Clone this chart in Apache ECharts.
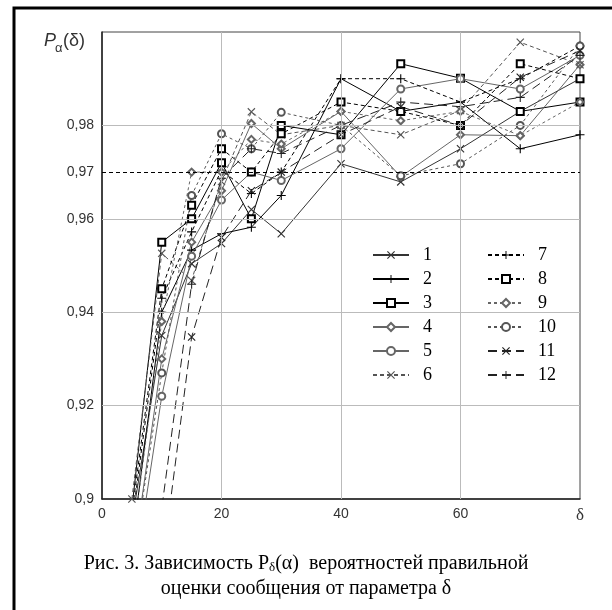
<!DOCTYPE html>
<html>
<head>
<meta charset="utf-8">
<script src="https://cdn.jsdelivr.net/npm/echarts/dist/echarts.min.js"></script>
<style>
html, body { margin: 0; padding: 0; background: #fff; }
#showChart { width: 612px; height: 610px; }
</style>
</head>
<body>
<div id="showChart"></div>
<script>
// значения δ
var deltas = [5, 10, 15, 20, 25, 30, 40, 50, 60, 70, 80];
// кривые 1..12
var s1  = [0.895, 0.935, 0.9504, 0.9547, 0.962, 0.9568, 0.9718, 0.9679, 0.975, 0.983, 0.990];
var s2  = [0.89, 0.94, 0.9533, 0.9568, 0.9582, 0.965, 0.990, 0.983, 0.985, 0.975, 0.978];
var s3  = [0.898, 0.955, 0.960, 0.972, 0.960, 0.980, 0.978, 0.9932, 0.9901, 0.983, 0.985];
var s4  = [0.885, 0.93, 0.955, 0.966, 0.9804, 0.975, 0.983, 0.969, 0.978, 0.9778, 0.993];
var s5  = [0.88, 0.922, 0.952, 0.964, 0.970, 0.9682, 0.975, 0.9878, 0.990, 0.9878, 0.995];
var s6  = [0.90, 0.9526, 0.9468, 0.968, 0.9829, 0.978, 0.980, 0.978, 0.9832, 0.9978, 0.993];
var s7  = [0.895, 0.943, 0.9572, 0.9704, 0.9654, 0.970, 0.990, 0.990, 0.985, 0.990, 0.997];
var s8  = [0.897, 0.945, 0.9629, 0.975, 0.970, 0.9782, 0.985, 0.983, 0.980, 0.9932, 0.990];
var s9  = [0.89, 0.938, 0.970, 0.970, 0.977, 0.976, 0.983, 0.981, 0.983, 0.9778, 0.985];
var s10 = [0.885, 0.927, 0.965, 0.9782, 0.975, 0.9828, 0.980, 0.9692, 0.9718, 0.980, 0.997];
var s11 = [0.86, 0.885, 0.9347, 0.956, 0.966, 0.970, 0.978, 0.984, 0.980, 0.9903, 0.996];
var s12 = [0.86, 0.898, 0.946, 0.9687, 0.975, 0.974, 0.980, 0.985, 0.984, 0.986, 0.995];
var names = ['1','2','3','4','5','6','7','8','9','10','11','12'];
var curves = [s1, s2, s3, s4, s5, s6, s7, s8, s9, s10, s11, s12];
// подписи и линии сетки
var yLabels = [0.9, 0.92, 0.94, 0.96, 0.97, 0.98];
var yGrid = [0.92, 0.94, 0.96, 0.98];
var yRef = 0.97;
var xGrid = [20, 40, 60];

var crossPath = 'path://M0,1L1,0L10,9L9,10ZM9,0L10,1L1,10L0,9Z';
var plusPath = 'path://M4.4,0H5.6V10H4.4ZM0,4.4H10V5.6H0Z';

var looks = [
  {sym: crossPath, size: 8, color: '#333', type: 'solid', fill: true},
  {sym: plusPath, size: 9, color: '#000', type: 'solid', fill: true},
  {sym: 'emptyRect', size: 7, color: '#000', type: 'solid'},
  {sym: 'emptyDiamond', size: 7, color: '#666', type: 'solid'},
  {sym: 'emptyCircle', size: 7, color: '#666', type: 'solid'},
  {sym: crossPath, size: 8, color: '#555', type: [4, 3], fill: true},
  {sym: plusPath, size: 9, color: '#000', type: [4, 3], fill: true},
  {sym: 'emptyRect', size: 7, color: '#000', type: [4, 3]},
  {sym: 'emptyDiamond', size: 7, color: '#666', type: [3, 3]},
  {sym: 'emptyCircle', size: 7, color: '#555', type: [3, 3]},
  {sym: crossPath, size: 8, color: '#222', type: [9, 5], fill: true},
  {sym: plusPath, size: 9, color: '#222', type: [9, 5], fill: true}
];

var myChart = echarts.init(document.getElementById('showChart'));

var series = [];
// сетка отдельной серией, под кривыми
var gridLines = [];
for (var i = 0; i < yGrid.length; i++) {
  gridLines.push({yAxis: yGrid[i], lineStyle: {color: '#bbb', width: 1, type: 'solid'}});
}
for (var i = 0; i < xGrid.length; i++) {
  gridLines.push({xAxis: xGrid[i], lineStyle: {color: '#bbb', width: 1, type: 'solid'}});
}
gridLines.push({yAxis: yRef, lineStyle: {color: '#000', width: 1, type: [4, 3]}});
series.push({
  name: 'grid', type: 'line', data: [], z: 1, silent: true,
  markLine: {silent: true, symbol: 'none', label: {show: false}, animation: false, data: gridLines}
});

for (var i = 0; i < curves.length; i++) {
  var pts = [];
  for (var j = 0; j < deltas.length; j++) pts.push([deltas[j], curves[i][j]]);
  var lk = looks[i];
  series.push({
    name: names[i],
    type: 'line',
    data: pts,
    z: 3,
    symbol: lk.sym,
    symbolSize: lk.size,
    showAllSymbol: true,
    clip: true,
    animation: false,
    lineStyle: {color: lk.color, width: 1, type: lk.type},
    itemStyle: lk.fill ? {color: lk.color, borderWidth: 0} : {color: lk.color, borderColor: lk.color, borderWidth: 1}
  });
}

var legendBase = {
  orient: 'vertical',
  top: 244,
  itemWidth: 36,
  itemHeight: 10,
  itemGap: 6,
  backgroundColor: '#fff',
  padding: [2, 4],
  textStyle: {fontFamily: 'Liberation Serif', fontSize: 18, color: '#000', padding: [0, 0, 0, 9]}
};

option = {
  backgroundColor: '#fff',
  animation: false,
  grid: {left: 102, top: 32, right: 32, bottom: 111, show: true, borderColor: '#444', borderWidth: 1},
  legend: [
    Object.assign({}, legendBase, {left: 368, data: names.slice(0, 6)}),
    Object.assign({}, legendBase, {left: 483, data: names.slice(6)})
  ],
  xAxis: {
    type: 'value', min: 0, max: 80, interval: 20,
    axisLine: {show: true, lineStyle: {color: '#222', width: 1.5}},
    axisTick: {show: false},
    splitLine: {show: false},
    axisLabel: {
      margin: 8, color: '#333', fontFamily: 'Liberation Sans', fontSize: 14,
      formatter: function (v) { return v === 80 ? '{d|δ}' : String(v); },
      rich: {d: {fontFamily: 'Liberation Serif', fontSize: 17, color: '#333'}}
    }
  },
  yAxis: {
    type: 'value', min: 0.9, max: 1.0, interval: 0.01,
    axisLine: {show: true, lineStyle: {color: '#222', width: 1.5}},
    axisTick: {show: false},
    splitLine: {show: false},
    axisLabel: {
      margin: 8, color: '#333', fontFamily: 'Liberation Sans', fontSize: 14,
      formatter: function (v) {
        var r = Math.round(v * 100) / 100;
        if (yLabels.indexOf(r) < 0) return '';
        return String(r).replace('.', ',');
      }
    }
  },
  graphic: [
    {type: 'rect', shape: {x: 14, y: 8, width: 700, height: 700}, style: {fill: 'none', stroke: '#000', lineWidth: 3}, silent: true},
    {type: 'text', left: 44, top: 32, style: {text: 'P', font: 'italic 18px "Liberation Sans"', fill: '#333'}},
    {type: 'text', left: 55, top: 42, style: {text: 'α', font: '13px "Liberation Sans"', fill: '#333'}},
    {type: 'text', left: 63, top: 32, style: {text: '(δ)', font: '18px "Liberation Sans"', fill: '#333'}},
    {
      type: 'text', left: 'center', top: 553,
      style: {
        text: 'Рис. 3. Зависимость P{s|δ}(α)  вероятностей правильной',
        font: '20px "Liberation Serif"', fill: '#000',
        rich: {s: {font: '13px "Liberation Serif"', verticalAlign: 'bottom', lineHeight: 13, padding: [8, 0, 0, 0]}}
      }
    },
    {
      type: 'text', left: 'center', top: 579,
      style: {text: 'оценки сообщения от параметра δ', font: '20px "Liberation Serif"', fill: '#000'}
    }
  ],
  series: series
};

myChart.setOption(option);
</script>
</body>
</html>
